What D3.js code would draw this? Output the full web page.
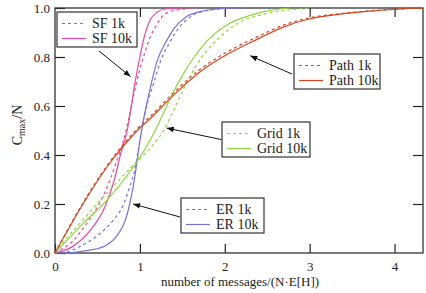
<!DOCTYPE html>
<html>
<head>
<meta charset="utf-8">
<script src="https://cdn.jsdelivr.net/npm/d3@7.9.0/dist/d3.min.js"></script>
<style>
  body { margin: 0; background: #fff; }
  svg text { font-family: "Liberation Serif", "Times New Roman", serif; fill: #222; }
</style>
</head>
<body>
<svg id="chart" width="426" height="293" font-family="Liberation Serif, Times New Roman, serif"></svg>
<script>
// curves: [messages/(N·E[H]), Cmax/N]
const sf1k = [[0,0],[0.1,0.02],[0.2,0.045],[0.33,0.1],[0.45,0.16],[0.55,0.22],[0.65,0.3],[0.73,0.38],[0.8,0.45],[0.87,0.55],[0.93,0.65],[1.0,0.75],[1.06,0.82],[1.12,0.88],[1.18,0.92],[1.25,0.96],[1.35,0.985],[1.5,0.995],[1.7,1]];
const sf10k = [[0,0],[0.2,0.025],[0.41,0.09],[0.59,0.19],[0.7,0.3],[0.77,0.4],[0.85,0.5],[0.9,0.6],[0.94,0.69],[1.0,0.8],[1.05,0.88],[1.12,0.95],[1.2,0.982],[1.3,0.996],[1.5,1]];
const er1k = [[0,0],[0.06,0],[0.29,0.026],[0.53,0.08],[0.69,0.135],[0.81,0.2],[0.88,0.27],[0.94,0.34],[1.0,0.46],[1.03,0.52],[1.08,0.6],[1.16,0.69],[1.24,0.78],[1.36,0.865],[1.45,0.915],[1.6,0.965],[1.8,0.99],[2.1,1]];
const er10k = [[0,0],[0.06,0],[0.41,0.012],[0.61,0.033],[0.75,0.08],[0.83,0.135],[0.88,0.2],[0.94,0.31],[0.98,0.41],[1.02,0.5],[1.12,0.67],[1.2,0.78],[1.32,0.87],[1.4,0.915],[1.55,0.965],[1.71,0.985],[1.98,0.998],[2.2,1]];
const grid1k = [[0,0],[0.1,0.045],[0.33,0.135],[0.6,0.24],[0.9,0.35],[1.1,0.42],[1.28,0.5],[1.42,0.6],[1.51,0.665],[1.71,0.79],[1.91,0.87],[2.14,0.935],[2.5,0.978],[2.75,0.992],[3.0,1]];
const grid10k = [[0,0],[0.33,0.12],[0.61,0.215],[0.92,0.35],[1.12,0.46],[1.25,0.55],[1.37,0.64],[1.51,0.73],[1.63,0.795],[1.79,0.865],[2.02,0.93],[2.3,0.97],[2.46,0.985],[2.77,1]];
const path1k = [[0,0],[0.33,0.205],[0.61,0.355],[0.79,0.437],[1.0,0.518],[1.12,0.557],[1.36,0.642],[1.71,0.75],[2.0,0.815],[2.38,0.882],[2.69,0.93],[3.0,0.96],[3.36,0.977],[3.67,0.987],[4.07,0.996],[4.335,1]];
const path10k = [[0,0],[0.33,0.2],[0.61,0.35],[0.79,0.43],[1.0,0.51],[1.12,0.548],[1.36,0.632],[1.71,0.74],[2.0,0.805],[2.38,0.872],[2.69,0.922],[3.0,0.956],[3.36,0.975],[3.67,0.986],[4.07,0.996],[4.335,1]];

const xTicks = [0, 1, 2, 3, 4];
const yTicks = [0, 0.2, 0.4, 0.6, 0.8, 1.0];

const series = [
  { name: 'SF 1k', data: sf1k, color: '#e6489c', dash: '3,3' },
  { name: 'SF 10k', data: sf10k, color: '#e6489c', dash: null },
  { name: 'ER 1k', data: er1k, color: '#7a70d8', dash: '3,3' },
  { name: 'ER 10k', data: er10k, color: '#7a70d8', dash: null },
  { name: 'Grid 1k', data: grid1k, color: '#8ed63c', dash: '3,3' },
  { name: 'Grid 10k', data: grid10k, color: '#8ed63c', dash: null },
  { name: 'Path 1k', data: path1k, color: '#d8441e', dash: '3,3' },
  { name: 'Path 10k', data: path10k, color: '#d8441e', dash: null }
];

// legend boxes: box top-left (px), arrow from box edge to a point (data units)
const legends = [
  { items: ['SF 1k', 'SF 10k'], x: 57, y: 12, w: 80, arrowFrom: [99, 51], arrowTo: [0.89, 0.72] },
  { items: ['Path 1k', 'Path 10k'], x: 294, y: 54, w: 86, arrowFrom: [292, 74], arrowTo: [2.3, 0.805] },
  { items: ['Grid 1k', 'Grid 10k'], x: 222, y: 122, w: 88, arrowFrom: [221, 139.5], arrowTo: [1.315, 0.51] },
  { items: ['ER 1k', 'ER 10k'], x: 181, y: 198, w: 83, arrowFrom: [180, 217], arrowTo: [0.92, 0.2] }
];

const svg = d3.select('#chart');
const margin = { left: 55, right: 3, top: 8, bottom: 40 };
const W = 426, H = 293;
const FONT = 'Liberation Serif, Times New Roman, serif';

let x = d3.scaleLinear().domain([0, 4.335]).range([margin.left, W - margin.right]);
let y = d3.scaleLinear().domain([0, 1]).range([H - margin.bottom, margin.top]);

// ticks pointing inward on all four sides
svg.append('g')
  .attr('transform', `translate(0,${y(0)})`)
  .call(d3.axisBottom(x).tickValues(xTicks).tickSize(-9).tickPadding(9).tickFormat(d3.format('d')))
  .call(g => g.select('.domain').remove());
svg.append('g')
  .attr('transform', `translate(0,${y(1)})`)
  .call(d3.axisTop(x).tickValues(xTicks.slice(1)).tickSize(-9).tickFormat(''))
  .call(g => g.select('.domain').remove());
svg.append('g')
  .attr('transform', `translate(${x(0)},0)`)
  .call(d3.axisLeft(y).tickValues(yTicks).tickSize(-10).tickPadding(5).tickFormat(d3.format('.1f')))
  .call(g => g.select('.domain').remove());
svg.append('g')
  .attr('transform', `translate(${x(4.335)},0)`)
  .call(d3.axisRight(y).tickValues(yTicks.slice(1, -1)).tickSize(-10).tickFormat(''))
  .call(g => g.select('.domain').remove());

svg.selectAll('g').attr('font-family', FONT);
svg.selectAll('.tick line').attr('stroke', '#222').attr('stroke-width', 1.2);
svg.selectAll('.tick text').attr('font-size', 13).attr('fill', '#222');

// frame
svg.append('rect')
  .attr('x', x(0)).attr('y', y(1))
  .attr('width', x(4.335) - x(0)).attr('height', y(0) - y(1))
  .attr('fill', 'none').attr('stroke', '#333').attr('stroke-width', 1.3);

// curves
let line = d3.line()
  .x(d => x(d[0]))
  .y(d => y(d[1]))
  .curve(d3.curveMonotoneX);

svg.append('g').selectAll('path')
  .data(series)
  .join('path')
  .attr('d', d => line(d.data))
  .attr('fill', 'none')
  .attr('stroke', d => d.color)
  .attr('stroke-width', 1.2)
  .attr('stroke-dasharray', d => d.dash);

// arrowhead
svg.append('defs').append('marker')
  .attr('id', 'head')
  .attr('viewBox', '0 0 10 10')
  .attr('refX', 10).attr('refY', 5)
  .attr('markerWidth', 9).attr('markerHeight', 7)
  .attr('orient', 'auto')
  .append('path')
  .attr('d', 'M0,1 L10,5 L0,9 Z')
  .attr('fill', '#111');

let seriesOf = name => series.find(s => s.name === name);

legends.forEach(lg => {
  let g = svg.append('g');
  g.append('rect')
    .attr('x', lg.x).attr('y', lg.y)
    .attr('width', lg.w).attr('height', 35)
    .attr('fill', '#fff').attr('stroke', '#333').attr('stroke-width', 1.2);
  lg.items.forEach((name, i) => {
    let s = seriesOf(name);
    let yy = lg.y + 11.5 + i * 15;
    g.append('line')
      .attr('x1', lg.x + 5).attr('x2', lg.x + 29)
      .attr('y1', yy).attr('y2', yy)
      .attr('stroke', s.color).attr('stroke-width', 1.2)
      .attr('stroke-dasharray', s.dash);
    g.append('text')
      .attr('x', lg.x + 35).attr('y', yy + 4.5)
      .attr('font-family', FONT)
      .attr('font-size', 14)
      .text(name);
  });
  svg.append('line')
    .attr('x1', lg.arrowFrom[0]).attr('y1', lg.arrowFrom[1])
    .attr('x2', x(lg.arrowTo[0])).attr('y2', y(lg.arrowTo[1]))
    .attr('stroke', '#111').attr('stroke-width', 1)
    .attr('marker-end', 'url(#head)');
});

// axis labels
svg.append('text')
  .attr('x', (x(0) + x(4.335)) / 2 + 1).attr('y', 286)
  .attr('text-anchor', 'middle')
  .attr('font-family', FONT)
  .attr('font-size', 13)
  .text('number of messages/(N\u00b7E[H])');

let yl = svg.append('text')
  .attr('transform', 'translate(22,125) rotate(-90)')
  .attr('text-anchor', 'middle')
  .attr('font-family', FONT)
  .attr('font-size', 14);
yl.append('tspan').text('C');
yl.append('tspan').attr('font-size', 10).attr('dy', 3).text('max');
yl.append('tspan').attr('dy', -3).text('/N');
</script>
</body>
</html>
